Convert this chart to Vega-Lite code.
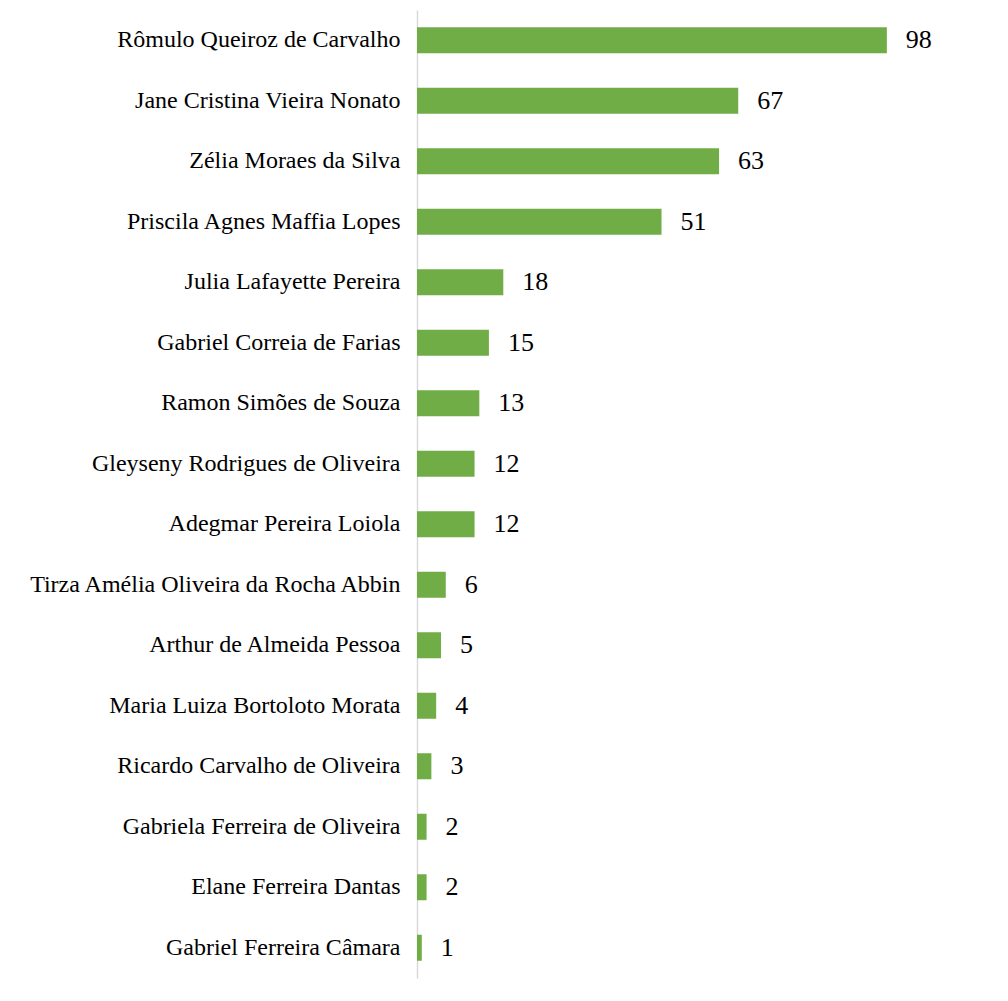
{
  "$schema": "https://vega.github.io/schema/vega-lite/v6.json",
  "autosize": "none",
  "width": 560,
  "height": 968,
  "padding": {"left": 417, "top": 10, "right": 31, "bottom": 23},
  "background": "white",
  "config": {"view": {"stroke": null}, "font": "Liberation Serif"},
  "data": {"values": [
    {"name": "Rômulo Queiroz de Carvalho", "value": 98},
    {"name": "Jane Cristina Vieira Nonato", "value": 67},
    {"name": "Zélia Moraes da Silva", "value": 63},
    {"name": "Priscila Agnes Maffia Lopes", "value": 51},
    {"name": "Julia Lafayette Pereira", "value": 18},
    {"name": "Gabriel Correia de Farias", "value": 15},
    {"name": "Ramon Simões de Souza", "value": 13},
    {"name": "Gleyseny Rodrigues de Oliveira", "value": 12},
    {"name": "Adegmar Pereira Loiola", "value": 12},
    {"name": "Tirza Amélia Oliveira da Rocha Abbin", "value": 6},
    {"name": "Arthur de Almeida Pessoa", "value": 5},
    {"name": "Maria Luiza Bortoloto Morata", "value": 4},
    {"name": "Ricardo Carvalho de Oliveira", "value": 3},
    {"name": "Gabriela Ferreira de Oliveira", "value": 2},
    {"name": "Elane Ferreira Dantas", "value": 2},
    {"name": "Gabriel Ferreira Câmara", "value": 1}
  ]},
  "encoding": {
    "y": {
      "field": "name", "type": "nominal", "sort": null,
      "scale": {"paddingInner": 0.57, "paddingOuter": 0.285},
      "axis": {
        "title": null, "ticks": false, "labelPadding": 17,
        "labelFont": "Liberation Serif", "labelFontSize": 24, "labelColor": "#000000",
        "domainColor": "#d9d9d9", "domainWidth": 1.5, "grid": false, "labelLimit": 500
      }
    },
    "x": {
      "field": "value", "type": "quantitative",
      "scale": {"domain": [0, 116.8], "nice": false, "zero": true},
      "axis": null
    }
  },
  "layer": [
    {"mark": {"type": "bar", "color": "#70AD47"}},
    {
      "mark": {"type": "text", "align": "left", "baseline": "middle", "dx": 19, "font": "Liberation Serif", "fontSize": 26, "color": "#000000"},
      "encoding": {"text": {"field": "value", "type": "quantitative"}}
    }
  ]
}
